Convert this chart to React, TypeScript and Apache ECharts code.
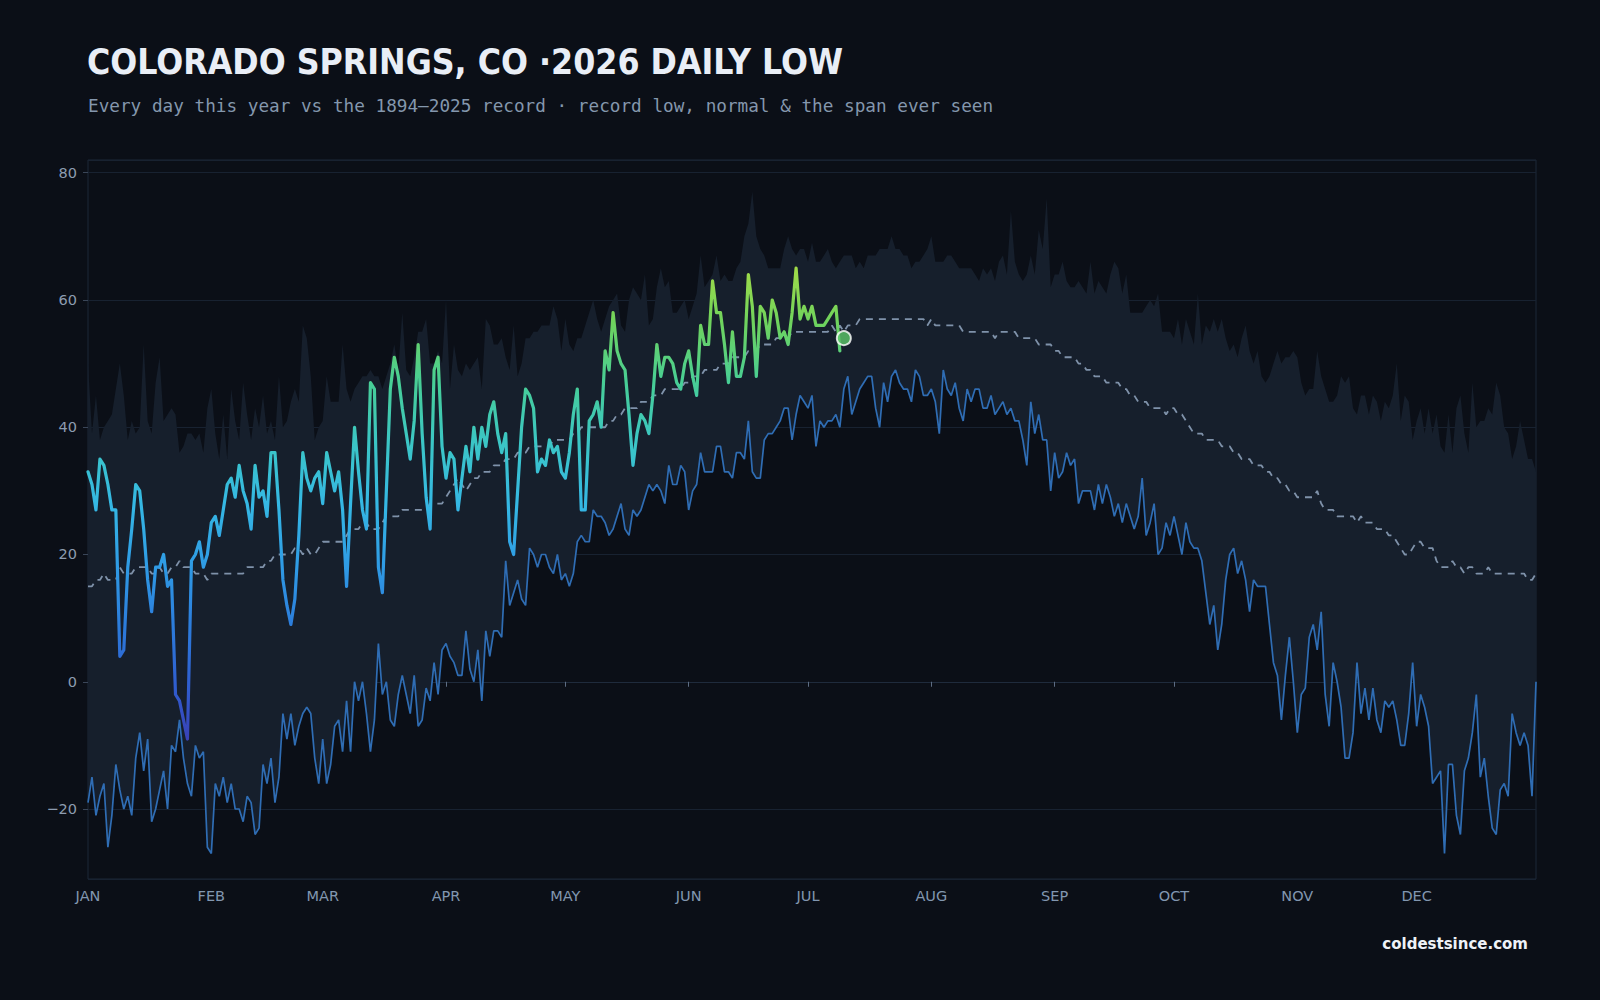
import React, { useEffect, useRef } from "react";
import * as echarts from "echarts";

const MONTHS = ["JAN", "FEB", "MAR", "APR", "MAY", "JUN", "JUL", "AUG", "SEP", "OCT", "NOV", "DEC"];
const MONTH_DAYS = [31, 28, 31, 30, 31, 30, 31, 31, 30, 31, 30, 31];

const TITLE = "COLORADO SPRINGS, CO \u00b72026 DAILY LOW";
const SUBTITLE = "Every day this year vs the 1894\u20132025 record \u00b7 record low, normal & the span ever seen";
const SITE = "coldestsince.com";

// Record low (lowest daily low ever seen), Jan 1 .. Dec 31
const recordLow = [
  -19, -15, -21, -18, -16, -26, -21, -13, -17, -20,
  -18, -21, -12, -8, -14, -9, -22, -20, -17, -14,
  -20, -10, -11, -6, -12, -16, -18, -10, -12, -11,
  -26, -27, -16, -18, -15, -19, -16, -20, -20, -22,
  -18, -19, -24, -23, -13, -16, -12, -19, -15, -5,
  -9, -5, -10, -7, -5, -4, -5, -12, -16, -9,
  -16, -13, -7, -6, -11, -3, -11, 0, -3, 0,
  -5, -11, -6, 6, -2, 0, -6, -7, -2, 1,
  -2, -5, 1, -7, -6, -1, -3, 3, -2, 5,
  6, 4, 3, 1, 1, 8, 2, 0, 5, -3,
  8, 4, 8, 8, 7, 19, 12, 14, 16, 13,
  12, 21, 20, 18, 20, 20, 18, 17, 20, 16,
  17, 15, 17, 22, 23, 22, 22, 27, 26, 26,
  25, 23, 24, 26, 28, 24, 23, 27, 26, 27,
  29, 31, 30, 31, 30, 28, 34, 31, 31, 34,
  33, 27, 30, 31, 36, 33, 33, 33, 37, 37,
  33, 33, 32, 36, 36, 35, 41, 33, 32, 32,
  38, 39, 39, 40, 41, 43, 43, 38, 42, 45,
  44, 43, 45, 37, 41, 40, 41, 41, 42, 40,
  46, 48, 42, 44, 46, 47, 48, 48, 43, 40,
  47, 44, 48, 49, 47, 46, 46, 44, 49, 48,
  45, 45, 46, 44, 39, 49, 46, 45, 47, 43,
  41, 46, 44, 46, 46, 43, 43, 45, 42, 43,
  44, 42, 43, 41, 41, 38, 34, 44, 39, 42,
  38, 38, 30, 36, 32, 33, 36, 34, 35, 28,
  30, 30, 30, 27, 31, 28, 31, 29, 26, 28,
  25, 28, 26, 24, 26, 32, 23, 25, 28, 20,
  21, 25, 23, 26, 23, 20, 25, 22, 21, 21,
  19, 14, 9, 12, 5, 9, 16, 20, 21, 17,
  19, 16, 11, 16, 15, 15, 15, 9, 3, 1,
  -6, 1, 7, 0, -8, -2, -1, 7, 9, 5,
  11, -2, -7, 3, 0, -4, -12, -12, -8, 3,
  -5, -1, -6, -1, -6, -8, -3, -4, -3, -6,
  -10, -10, -5, 3, -7, -2, -4, -7, -16, -15,
  -14, -27, -13, -13, -21, -24, -14, -12, -8, -2,
  -15, -12, -18, -23, -24, -17, -16, -18, -5, -8,
  -10, -8, -10, -18, 0,
];

// Highest daily low ever seen (top of the span), Jan 1 .. Dec 31
const recordHighLow = [
  50, 39, 45, 38, 40, 41, 42, 46, 50, 45,
  38, 41, 39, 40, 53, 41, 39, 47, 51, 41,
  42, 43, 42, 36, 37, 39, 39, 38, 39, 36,
  43, 46, 39, 35, 42, 35, 46, 41, 38, 47,
  42, 38, 43, 40, 45, 39, 41, 38, 48, 40,
  41, 44, 46, 44, 56, 54, 48, 38, 40, 41,
  48, 44, 44, 44, 53, 46, 44, 46, 47, 48,
  48, 49, 48, 48, 46, 48, 50, 53, 49, 58,
  49, 48, 51, 55, 55, 57, 50, 50, 52, 50,
  60, 46, 53, 49, 48, 50, 49, 50, 51, 46,
  57, 56, 53, 53, 54, 51, 49, 56, 48, 50,
  54, 54, 55, 55, 56, 56, 56, 59, 57, 52,
  57, 53, 52, 54, 54, 56, 58, 60, 57, 55,
  57, 59, 60, 61, 56, 55, 60, 62, 61, 60,
  64, 56, 57, 62, 65, 62, 63, 58, 58, 59,
  60, 57, 59, 61, 67, 62, 63, 64, 67, 63,
  64, 63, 63, 65, 66, 70, 72, 77, 70, 68,
  67, 65, 65, 65, 65, 68, 70, 68, 67, 68,
  68, 66, 69, 66, 66, 67, 68, 66, 65, 66,
  67, 67, 67, 65, 66, 65, 67, 67, 67, 68,
  68, 68, 70, 68, 68, 67, 67, 65, 66, 66,
  67, 68, 70, 66, 66, 66, 67, 67, 66, 65,
  65, 65, 65, 64, 63, 65, 64, 65, 63, 66,
  67, 64, 74, 66, 64, 63, 64, 67, 64, 71,
  68, 76, 62, 64, 64, 66, 63, 62, 62, 63,
  62, 61, 66, 61, 63, 62, 61, 64, 66, 65,
  61, 64, 58, 58, 58, 58, 59, 60, 59, 61,
  55, 55, 55, 54, 57, 53, 57, 55, 53, 61,
  53, 56, 55, 57, 55, 57, 54, 52, 53, 51,
  54, 56, 52, 50, 52, 48, 47, 48, 50, 52,
  50, 51, 51, 52, 51, 47, 45, 46, 46, 52,
  48, 46, 44, 44, 45, 48, 47, 48, 43, 42,
  45, 45, 42, 45, 44, 41, 44, 43, 45, 50,
  41, 45, 44, 38, 41, 43, 39, 43, 39, 42,
  37, 36, 42, 36, 43, 45, 39, 36, 47, 40,
  41, 41, 43, 42, 47, 45, 40, 39, 35, 37,
  41, 38, 35, 35, 33,
];

// Normal daily low, Jan 1 .. Dec 31
const normalLow = [
  15, 15, 16, 16, 17, 16, 16, 16, 18, 17,
  17, 17, 18, 18, 18, 18, 17, 17, 18, 17,
  17, 18, 18, 19, 18, 18, 18, 17, 17, 17,
  16, 17, 17, 17, 17, 17, 17, 17, 17, 17,
  18, 18, 18, 18, 18, 19, 19, 20, 20, 20,
  20, 20, 21, 21, 20, 21, 20, 20, 21, 22,
  22, 22, 22, 22, 22, 23, 24, 24, 24, 25,
  25, 24, 24, 24, 25, 26, 26, 26, 26, 27,
  27, 27, 27, 27, 27, 27, 28, 28, 28, 28,
  29, 30, 31, 32, 31, 30, 31, 32, 32, 33,
  33, 33, 34, 34, 34, 35, 35, 35, 36, 36,
  36, 37, 37, 37, 37, 37, 37, 38, 38, 38,
  38, 38, 39, 39, 40, 40, 40, 40, 40, 40,
  40, 41, 41, 42, 42, 43, 43, 43, 43, 44,
  44, 44, 45, 45, 45, 46, 46, 46, 46, 46,
  47, 47, 48, 48, 48, 49, 49, 49, 49, 50,
  50, 50, 51, 51, 51, 51, 52, 52, 52, 53,
  53, 53, 53, 54, 54, 54, 54, 55, 55, 55,
  55, 55, 55, 55, 55, 55, 55, 56, 55, 56,
  55, 56, 56, 56, 57, 57, 57, 57, 57, 57,
  57, 57, 57, 57, 57, 57, 57, 57, 57, 57,
  57, 56, 57, 56, 56, 56, 56, 56, 56, 56,
  55, 55, 55, 55, 55, 55, 55, 55, 54, 55,
  55, 55, 55, 55, 54, 54, 54, 54, 54, 53,
  53, 53, 53, 52, 52, 51, 51, 51, 51, 50,
  50, 49, 49, 48, 48, 48, 47, 47, 47, 47,
  46, 46, 45, 45, 44, 44, 44, 43, 43, 43,
  43, 42, 43, 43, 42, 42, 41, 40, 39, 39,
  39, 38, 38, 38, 38, 37, 37, 37, 36, 36,
  35, 35, 35, 34, 34, 34, 33, 33, 32, 32,
  31, 31, 30, 30, 29, 29, 29, 29, 29, 30,
  28, 27, 27, 27, 26, 26, 26, 26, 26, 25,
  26, 25, 25, 25, 24, 24, 24, 23, 23, 22,
  21, 20, 20, 21, 22, 22, 21, 21, 21, 19,
  18, 18, 18, 19, 18, 18, 17, 18, 18, 17,
  17, 17, 18, 17, 17, 17, 17, 17, 17, 17,
  17, 17, 16, 16, 17,
];

// 2026 daily lows so far, from Jan 1
const daily2026 = [
  33, 31, 27, 35, 34, 31, 27, 27, 4, 5,
  18, 24, 31, 30, 24, 16, 11, 18, 18, 20,
  15, 16, -2, -3, -6, -9, 19, 20, 22, 18,
  20, 25, 26, 23, 27, 31, 32, 29, 34, 30,
  28, 24, 34, 29, 30, 26, 36, 36, 27, 16,
  12, 9, 13, 23, 36, 32, 30, 32, 33, 28,
  36, 33, 30, 33, 27, 15, 28, 40, 33, 27,
  24, 47, 46, 18, 14, 30, 46, 51, 48, 43,
  39, 35, 41, 53, 39, 29, 24, 49, 51, 37,
  32, 36, 35, 27, 32, 37, 33, 40, 35, 40,
  37, 42, 44, 39, 36, 39, 22, 20, 30, 40,
  46, 45, 43, 33, 35, 34, 38, 36, 37, 33,
  32, 36, 42, 46, 27, 27, 41, 42, 44, 40,
  52, 49, 58, 52, 50, 49, 42, 34, 39, 42,
  41, 39, 45, 53, 48, 51, 51, 50, 47, 46,
  50, 52, 48, 45, 56, 53, 53, 63, 58, 58,
  53, 47, 55, 48, 48, 51, 64, 59, 48, 59,
  58, 54, 60, 58, 54, 55, 53, 58, 65, 57,
  59, 57, 59, 56, 56, 56, 57, 58, 59, 52,
];

// Latest reading marker: [day index, value]
const latestPoint = [190, 54];

const LINE_COLORS = ["#3a3fb5", "#2f5ecf", "#2c7ddc", "#2f9ce5", "#35b8e4", "#3bc6c6", "#47ce96", "#6fd35d", "#a6dc45"];

export default function App() {
  const ref = useRef<HTMLDivElement>(null);

  useEffect(() => {
    if (!ref.current) return;
    const chart = echarts.init(ref.current, null, { renderer: "svg" });

    const days: string[] = [];
    const monthStart = new Set<number>();
    MONTHS.forEach((m, mi) => {
      for (let d = 1; d <= MONTH_DAYS[mi]; d++) {
        if (d === 1) monthStart.add(days.length);
        days.push(m + " " + d);
      }
    });

    const spanHeight = recordHighLow.map((v, i) => v - recordLow[i]);
    const axisFont = "'DejaVu Sans', sans-serif";

    chart.setOption({
      animation: false,
      backgroundColor: "#0b0f17",
      title: [
        {
          text: TITLE,
          left: 87,
          top: 44,
          padding: 0,
          textStyle: {
            color: "#e9eef6",
            fontSize: 35.3,
            fontWeight: "bold",
            fontFamily: "'DejaVu Sans Condensed', 'DejaVu Sans', sans-serif",
          },
        },
        {
          text: SUBTITLE,
          left: 88,
          top: 97,
          padding: 0,
          textStyle: {
            color: "#8497ad",
            fontSize: 17.7,
            fontWeight: "normal",
            fontFamily: "'DejaVu Sans Mono', monospace",
          },
        },
        {
          text: SITE,
          right: 72,
          top: 936,
          padding: 0,
          textStyle: {
            color: "#eef2f8",
            fontSize: 15,
            fontWeight: "bold",
            fontFamily: "'DejaVu Sans', sans-serif",
          },
        },
      ],
      grid: {
        left: 88,
        right: 64,
        top: 160,
        bottom: 121,
        show: true,
        borderColor: "#1d2838",
        borderWidth: 1,
        backgroundColor: "transparent",
      },
      xAxis: {
        type: "category",
        data: days,
        boundaryGap: false,
        axisLine: { show: true, lineStyle: { color: "#1f2b3c", width: 1 } },
        axisTick: {
          show: true,
          length: 5,
          interval: (i: number) => monthStart.has(i),
          lineStyle: { color: "#5d6d83" },
        },
        axisLabel: {
          interval: (i: number) => monthStart.has(i),
          formatter: (v: string) => v.split(" ")[0],
          color: "#8297b0",
          fontSize: 14.5,
          margin: 9,
          fontFamily: axisFont,
        },
        splitLine: { show: false },
      },
      yAxis: {
        type: "value",
        min: -31,
        max: 82,
        axisLine: { show: false },
        axisTick: { show: true, length: 5, lineStyle: { color: "#3a4658" } },
        axisLabel: {
          color: "#8d9cb0",
          fontSize: 14.5,
          margin: 11,
          fontFamily: axisFont,
          showMinLabel: false,
          showMaxLabel: false,
          formatter: (v: number) => (v < 0 ? "\u2212" + Math.abs(v) : String(v)),
        },
        splitLine: { lineStyle: { color: "#182231", width: 1 } },
      },
      visualMap: {
        type: "continuous",
        show: false,
        seriesIndex: 4,
        dimension: 1,
        min: -10,
        max: 66,
        inRange: { color: LINE_COLORS },
      },
      series: [
        {
          name: "span-base",
          type: "line",
          data: recordLow,
          stack: "span",
          stackStrategy: "all",
          symbol: "none",
          silent: true,
          lineStyle: { opacity: 0 },
          z: 1,
        },
        {
          name: "span",
          type: "line",
          data: spanHeight,
          stack: "span",
          stackStrategy: "all",
          symbol: "none",
          silent: true,
          lineStyle: { opacity: 0 },
          areaStyle: { color: "#161f2c", opacity: 1 },
          z: 1,
        },
        {
          name: "Record low",
          type: "line",
          data: recordLow,
          symbol: "none",
          lineStyle: { color: "#2f6db4", width: 1.7 },
          z: 3,
        },
        {
          name: "Normal",
          type: "line",
          data: normalLow,
          symbol: "none",
          lineStyle: { color: "#7f92aa", width: 1.8, type: [7, 6] },
          z: 4,
        },
        {
          name: "2026",
          type: "line",
          data: daily2026,
          symbol: "none",
          lineStyle: { width: 3.2, cap: "round", join: "round" },
          z: 5,
        },
        {
          name: "Latest",
          type: "scatter",
          data: [latestPoint],
          symbolSize: 14,
          itemStyle: { color: "#5cc86a", borderColor: "#ffffff", borderWidth: 2 },
          z: 6,
        },
      ],
    });

    return () => chart.dispose();
  }, []);

  return (
    <div
      ref={ref}
      style={{ position: "fixed", left: 0, top: 0, width: 1600, height: 1000 }}
    />
  );
}
